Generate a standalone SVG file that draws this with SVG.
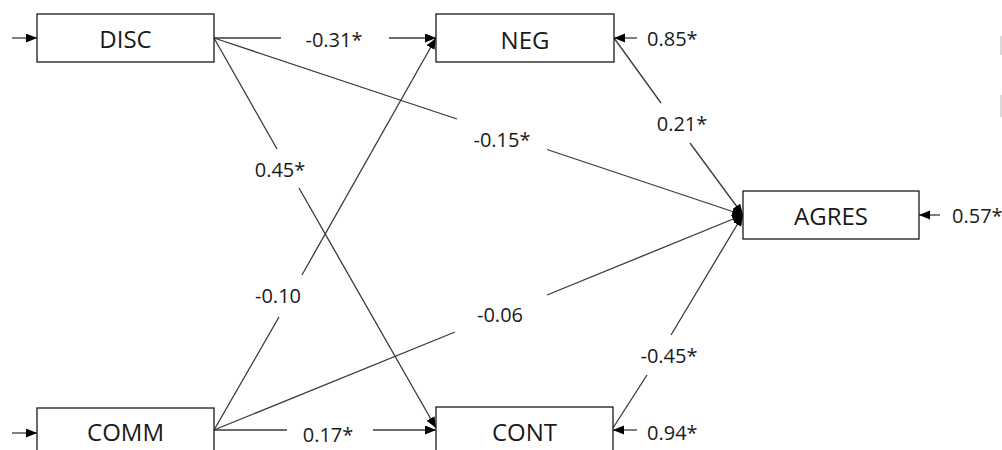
<svg xmlns="http://www.w3.org/2000/svg" width="1002" height="450" viewBox="0 0 1002 450">
<style>
.box{fill:#fff;stroke:#1a1a1a;stroke-width:1.3}
.nl{font-family:"Open Sans","Liberation Sans",sans-serif;font-size:24px;fill:#1a1a1a;text-anchor:middle}
.num{font-family:"Open Sans","Liberation Sans",sans-serif;font-size:20px;fill:#1a1a1a}
.c{text-anchor:middle}
.ln{stroke:#3a3a3a;stroke-width:1.3;fill:none}
.ar{marker-end:url(#ah)}
</style>
<defs>
<marker id="ah" markerUnits="userSpaceOnUse" markerWidth="12" markerHeight="10" refX="11" refY="4.5" orient="auto">
<path d="M0,0 L11,4.5 L0,9 z" fill="#000"/>
</marker>
</defs>
<rect x="0" y="0" width="1002" height="450" fill="#fff"/>
<g id="connectors">
<line class="ln" x1="214" y1="38" x2="281" y2="38"/>
<line class="ln ar" x1="389" y1="38" x2="436" y2="38"/>
<line class="ln" x1="214" y1="38" x2="457" y2="119"/>
<line class="ln ar" x1="547" y1="149.5" x2="743" y2="215"/>
<line class="ln" x1="214" y1="38" x2="277" y2="149"/>
<line class="ln ar" x1="299" y1="188" x2="436" y2="428"/>
<line class="ln" x1="214" y1="430" x2="279" y2="317"/>
<line class="ln ar" x1="302" y1="275" x2="436" y2="38"/>
<line class="ln" x1="214" y1="430" x2="455" y2="332"/>
<line class="ln ar" x1="547" y1="295" x2="743" y2="215"/>
<line class="ln" x1="214" y1="430" x2="287" y2="430"/>
<line class="ln ar" x1="373" y1="430" x2="436" y2="430"/>
<line class="ln" x1="614" y1="38" x2="661" y2="103"/>
<line class="ln ar" x1="690" y1="143" x2="743" y2="215"/>
<line class="ln" x1="613" y1="428" x2="647" y2="375"/>
<line class="ln ar" x1="671" y1="335" x2="743" y2="215"/>
<line class="ln ar" x1="12" y1="38" x2="37" y2="38"/>
<line class="ln ar" x1="12" y1="433" x2="37" y2="433"/>
<line class="ln ar" x1="637" y1="38" x2="614" y2="38"/>
<line class="ln ar" x1="637" y1="430" x2="613" y2="430"/>
<line class="ln ar" x1="940" y1="215" x2="919" y2="215"/>
</g>
<g id="labels">
<text class="num c" x="334" y="47">-0.31*</text>
<text class="num c" x="502" y="147">-0.15*</text>
<text class="num c" x="280" y="177">0.45*</text>
<text class="num c" x="278" y="303">-0.10</text>
<text class="num c" x="500" y="322">-0.06</text>
<text class="num c" x="328" y="442">0.17*</text>
<text class="num c" x="682" y="131">0.21*</text>
<text class="num c" x="669" y="363">-0.45*</text>
<text class="num" x="647" y="46">0.85*</text>
<text class="num" x="647" y="440">0.94*</text>
<text class="num" x="952" y="223">0.57*</text>
</g>
<g id="DISC"><rect class="box" x="37" y="14" width="177" height="48"/><text class="nl" x="125.5" y="48">DISC</text></g>
<g id="NEG"><rect class="box" x="436" y="14" width="178" height="48"/><text class="nl" x="525" y="48.5">NEG</text></g>
<g id="AGRES"><rect class="box" x="743" y="191" width="176" height="48"/><text class="nl" x="831" y="224.5">AGRES</text></g>
<g id="COMM"><rect class="box" x="37" y="408" width="177" height="48"/><text class="nl" x="125.5" y="441">COMM</text></g>
<g id="CONT"><rect class="box" x="436" y="407" width="177" height="48"/><text class="nl" x="524.5" y="441">CONT</text></g>
<g id="edge-marks">
<rect x="1000" y="36" width="2" height="19" fill="#d9d9d9"/>
<rect x="1000" y="95" width="2" height="22" fill="#d9d9d9"/>
</g>
</svg>
